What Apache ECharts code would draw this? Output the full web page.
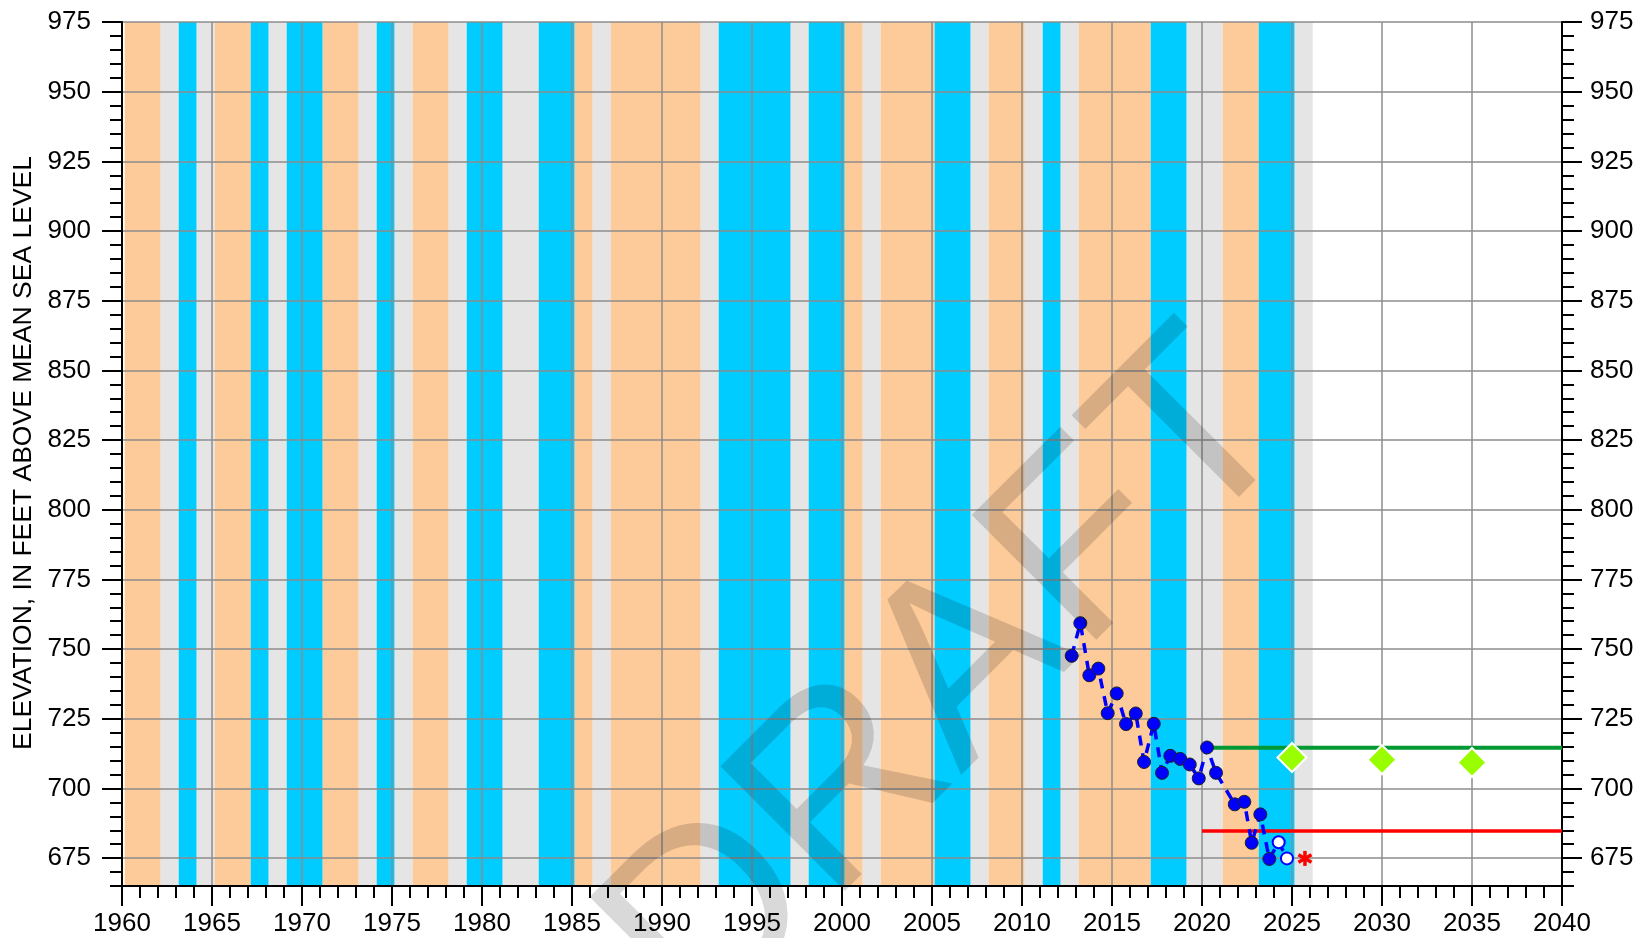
<!DOCTYPE html>
<html>
<head>
<meta charset="utf-8">
<script src="https://cdn.jsdelivr.net/npm/echarts@6/dist/echarts.min.js"></script>
<style>
  html, body { margin: 0; padding: 0; background: #fff; }
  #main { width: 1638px; height: 938px; }
</style>
</head>
<body>
<div id="main"></div>
<script>
// year bands: D = dry (orange), W = wet (blue), N = normal (grey)
let bandStart = [1960, 1962, 1963, 1964, 1965, 1967, 1968, 1969, 1971, 1973, 1974, 1975, 1976, 1978, 1979, 1981, 1983, 1985, 1986, 1987,
  1992, 1993, 1997, 1998, 2000, 2001, 2002, 2005, 2007, 2008, 2010, 2011, 2012, 2013, 2017, 2019, 2021, 2023, 2025];
let bandEnd = [1962, 1963, 1964, 1965, 1967, 1968, 1969, 1971, 1973, 1974, 1975, 1976, 1978, 1979, 1981, 1983, 1985, 1986, 1987, 1992,
  1993, 1997, 1998, 2000, 2001, 2002, 2005, 2007, 2008, 2010, 2011, 2012, 2013, 2017, 2019, 2021, 2023, 2025, 2026];
let bandType = ['D', 'N', 'W', 'N', 'D', 'W', 'N', 'W', 'D', 'N', 'W', 'N', 'D', 'N', 'W', 'N', 'W', 'D', 'N', 'D',
  'N', 'W', 'N', 'W', 'D', 'N', 'D', 'W', 'N', 'D', 'N', 'W', 'N', 'D', 'W', 'N', 'D', 'W', 'N'];

// measured water levels
let obsYears = [2012.76, 2013.24, 2013.74, 2014.24, 2014.76, 2015.26, 2015.78, 2016.32, 2016.78, 2017.32, 2017.78,
  2018.24, 2018.79, 2019.32, 2019.82, 2020.28, 2020.78, 2021.82, 2022.35, 2022.76, 2023.24, 2023.74];
let obsLevels = [747.6, 759.3, 740.6, 743.0, 727.0, 734.1, 723.1, 726.9, 709.5, 723.2, 705.6,
  711.7, 710.6, 708.6, 703.6, 714.7, 705.6, 694.3, 695.2, 680.5, 690.7, 674.7];

// provisional levels (open circles)
let provYears = [2024.26, 2024.72];
let provLevels = [680.7, 674.9];

// flagged level (asterisk)
let flagYears = [2025.72];
let flagLevels = [674.9];

// goal lines
let upperGoalYears = [2020.3, 2040];
let upperGoalLevel = 714.6;
let lowerGoalYears = [2020, 2040];
let lowerGoalLevel = 684.7;

// projected levels (diamonds)
let projYears = [2025, 2030, 2035];
let projLevels = [711.1, 710.3, 709.3];

let yTicks = [675, 700, 725, 750, 775, 800, 825, 850, 875, 900, 925, 950, 975];

let font = '"Liberation Sans", Arial, sans-serif';
let bandColors = { D: '#FDCB99', W: '#00CCFF', N: '#E5E5E5' };
let bandShift = 0.15;
let yMin = 665;
let yMax = 975;

let myChart = echarts.init(document.getElementById('main'));

let blackLine = { color: '#000', width: 2 };

function minorAxis(pos) {
  return {
    type: 'value', position: pos, min: yMin, max: yMax, interval: 5,
    axisLine: { show: true, onZero: false, lineStyle: blackLine },
    axisTick: { show: true, length: 12, lineStyle: blackLine },
    axisLabel: { show: false },
    splitLine: { show: false },
    z: 1.5
  };
}

function majorAxis(pos, margin, grid) {
  return {
    type: 'value', position: pos, min: yMin, max: yMax,
    axisLine: { show: false },
    axisTick: { show: true, length: 20, lineStyle: blackLine, customValues: yTicks },
    axisLabel: { show: true, fontSize: 26, color: '#000', fontFamily: font, margin: margin, customValues: yTicks },
    splitLine: { show: grid, lineStyle: { color: '#8c8c8c', width: 1.5 } },
    z: 1.5
  };
}

let allYears = obsYears.concat(provYears);
let allLevels = obsLevels.concat(provLevels);

let options = {
  animation: false,
  grid: { left: 122, right: 76, top: 22, bottom: 52, containLabel: false, outerBoundsMode: 'none' },
  xAxis: {
    type: 'value', min: 1960, max: 2040, interval: 5,
    axisLine: { show: true, onZero: false, lineStyle: blackLine },
    axisTick: { show: true, length: 20, lineStyle: blackLine },
    minorTick: { show: true, splitNumber: 5, length: 12, lineStyle: blackLine },
    axisLabel: { fontSize: 26, color: '#000', fontFamily: font, margin: 25, formatter: (v) => String(v) },
    splitLine: { show: true, lineStyle: { color: '#8c8c8c', width: 1.5 } },
    z: 1.5
  },
  yAxis: [minorAxis('left'), majorAxis('left', 31, true), minorAxis('right'), majorAxis('right', 28, false)],
  graphic: [
    {
      type: 'text', x: 24, y: 453, rotation: Math.PI / 2,
      style: { text: 'ELEVATION, IN FEET ABOVE MEAN SEA LEVEL', fontSize: 26.5, fontFamily: font, fill: '#000', align: 'center', verticalAlign: 'middle' }
    },
    {
      // watermark
      type: 'text', x: 951, y: 685, rotation: Math.PI / 4, z: 100,
      style: { text: 'DRAFT', fontSize: 256, fontFamily: font, fill: 'rgba(0,0,0,0.15)', align: 'center', verticalAlign: 'middle' }
    }
  ],
  series: [
    {
      name: 'bands',
      type: 'custom',
      z: 1,
      data: bandStart.map((s, i) => [s, bandEnd[i], yMin]),
      encode: { x: [0, 1], y: 2 },
      renderItem: function (params, api) {
        let p1 = api.coord([api.value(0) + bandShift, yMax]);
        let p2 = api.coord([api.value(1) + bandShift, yMin]);
        return {
          type: 'rect',
          shape: { x: p1[0], y: p1[1], width: p2[0] - p1[0], height: p2[1] - p1[1] },
          style: { fill: bandColors[bandType[params.dataIndex]] }
        };
      }
    },
    {
      name: 'upper goal',
      type: 'line', z: 2, showSymbol: false,
      data: upperGoalYears.map((x) => [x, upperGoalLevel]),
      lineStyle: { color: '#009933', width: 4 }
    },
    {
      name: 'lower goal',
      type: 'line', z: 2, showSymbol: false,
      data: lowerGoalYears.map((x) => [x, lowerGoalLevel]),
      lineStyle: { color: '#FF0000', width: 3.5 }
    },
    {
      name: 'trend',
      type: 'line', z: 3, showSymbol: false,
      data: allYears.map((x, i) => [x, allLevels[i]]),
      lineStyle: { color: '#0000FF', width: 3.5, type: [10, 8] }
    },
    {
      name: 'measured',
      type: 'scatter', z: 4, symbol: 'circle', symbolSize: 13,
      data: obsYears.map((x, i) => [x, obsLevels[i]]),
      itemStyle: { color: '#0000FF', borderColor: '#222', borderWidth: 1, opacity: 1 }
    },
    {
      name: 'provisional',
      type: 'scatter', z: 4, symbol: 'circle', symbolSize: 12,
      data: provYears.map((x, i) => [x, provLevels[i]]),
      itemStyle: { color: '#fff', borderColor: '#0000FF', borderWidth: 2, opacity: 1 }
    },
    {
      name: 'projected',
      type: 'scatter', z: 5, symbol: 'diamond', symbolSize: 29,
      data: projYears.map((x, i) => [x, projLevels[i]]),
      itemStyle: { color: '#99FF00', borderColor: '#fff', borderWidth: 2, opacity: 1 }
    },
    {
      name: 'flag',
      type: 'custom', z: 5,
      data: flagYears.map((x, i) => [x, flagLevels[i]]),
      renderItem: function (params, api) {
        let c = api.coord([api.value(0), api.value(1)]);
        let r = 7.5;
        let children = [];
        for (let k = 0; k < 3; k++) {
          let a = Math.PI / 2 + k * Math.PI / 3;
          children.push({
            type: 'line',
            shape: { x1: c[0] - r * Math.cos(a), y1: c[1] - r * Math.sin(a), x2: c[0] + r * Math.cos(a), y2: c[1] + r * Math.sin(a) },
            style: { stroke: '#FF0000', lineWidth: 3.5 }
          });
        }
        return { type: 'group', children: children };
      }
    }
  ]
};
myChart.setOption(options);
</script>
</body>
</html>
